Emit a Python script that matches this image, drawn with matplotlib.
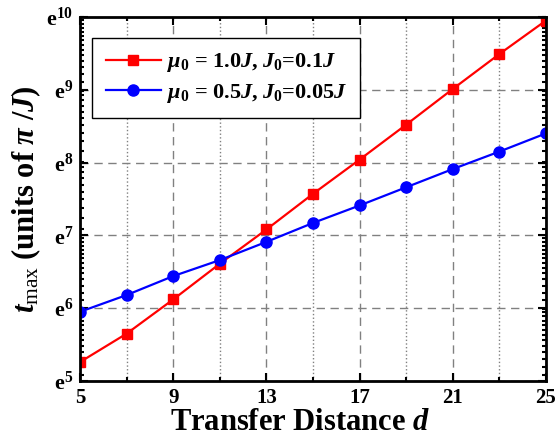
import numpy as np
import matplotlib
matplotlib.use("Agg")
import matplotlib.pyplot as plt
from matplotlib.ticker import FixedLocator, NullFormatter

plt.rcParams['font.family'] = 'Liberation Serif'
plt.rcParams['font.weight'] = 'bold'
plt.rcParams['mathtext.fontset'] = 'custom'
plt.rcParams['mathtext.rm'] = 'Liberation Serif:bold'
plt.rcParams['mathtext.bf'] = 'Liberation Serif:bold'
plt.rcParams['mathtext.it'] = 'Liberation Serif:italic:bold'
plt.rcParams['mathtext.sf'] = 'Liberation Serif:regular'

# transfer distance
d = [5, 7, 9, 11, 13, 15, 17, 19, 21, 23, 25]
# ln(t_max)
ln_t_red = [5.26, 5.65, 6.12, 6.61, 7.08, 7.57, 8.04, 8.52, 9.01, 9.49, 9.95]
ln_t_blue = [5.95, 6.18, 6.44, 6.66, 6.91, 7.17, 7.41, 7.66, 7.91, 8.15, 8.40]

label_red = r'$\mu_0$ = 1.0$J$, $J_0$=0.1$J$'
label_blue = r'$\mu_0$ = 0.5$J$, $J_0$=0.05$J$'

x_major = [5, 9, 13, 17, 21, 25]
x_minor = [7, 11, 15, 19, 23]
y_exp = [5, 6, 7, 8, 9, 10]

fig = plt.figure(figsize=(5.56, 4.44), dpi=100)
ax = fig.add_axes([0.144, 0.142, 0.838, 0.820])

ax.set_yscale('log', base=np.e)
ax.plot(d, np.exp(ln_t_red), '-s', color='red', lw=1.6, ms=7, label=label_red)
ax.plot(d, np.exp(ln_t_blue), '-o', color='blue', lw=1.6, ms=8, label=label_blue)

ax.set_xlim(5, 25)
ax.set_ylim(np.exp(5), np.exp(10))

ax.set_xticks(x_major)
ax.set_xticks(x_minor, minor=True)
ax.set_xticklabels([str(v) for v in x_major], fontsize=15, fontweight='bold')

ax.yaxis.set_major_locator(FixedLocator(np.exp(y_exp)))
ax.set_yticklabels([r'$\mathrm{e}^{%d}$' % n for n in y_exp], fontsize=16)

# minor ticks roughly ten per e-interval, at round values
minor_y = []
for n in y_exp[:-1]:
    lo, hi = np.exp(n), np.exp(n + 1)
    raw = (hi - lo) / 10
    mag = 10 ** np.floor(np.log10(raw))
    step = min([1, 2, 5, 10], key=lambda s: abs(s * mag - raw)) * mag
    k = np.arange(np.ceil(lo / step), np.floor(hi / step) + 1) * step
    minor_y.extend(k)
ax.yaxis.set_minor_locator(FixedLocator(minor_y))
ax.yaxis.set_minor_formatter(NullFormatter())

ax.grid(which='major', color='gray', linestyle=(0, (6, 4)), lw=1)
ax.grid(which='minor', axis='x', color='gray', linestyle=':', lw=1)
ax.tick_params(which='both', direction='in', top=True, right=True, width=1.5)
ax.tick_params(which='major', length=6)
ax.tick_params(which='minor', length=3)
ax.tick_params(axis='x', pad=5)
ax.tick_params(axis='y', pad=5)
for s in ax.spines.values():
    s.set_linewidth(2)

ax.set_xlabel(r'Transfer Distance $d$', fontsize=22, fontweight='bold')
ax.xaxis.set_label_coords(0.472, -0.075)
ax.set_ylabel(r'$t_{\mathsf{max}}$ (units of $\pi$ /$J$)', fontsize=22,
              fontweight='bold', labelpad=2)

leg = ax.legend(loc='upper left', bbox_to_anchor=(0.026, 0.942), fontsize=16,
                fancybox=False, edgecolor='black', framealpha=1,
                handlelength=2.5, handletextpad=0.25, borderpad=0.6,
                labelspacing=0.35, borderaxespad=0)
leg.get_frame().set_linewidth(1)

fig.savefig('out.png', dpi=100)
